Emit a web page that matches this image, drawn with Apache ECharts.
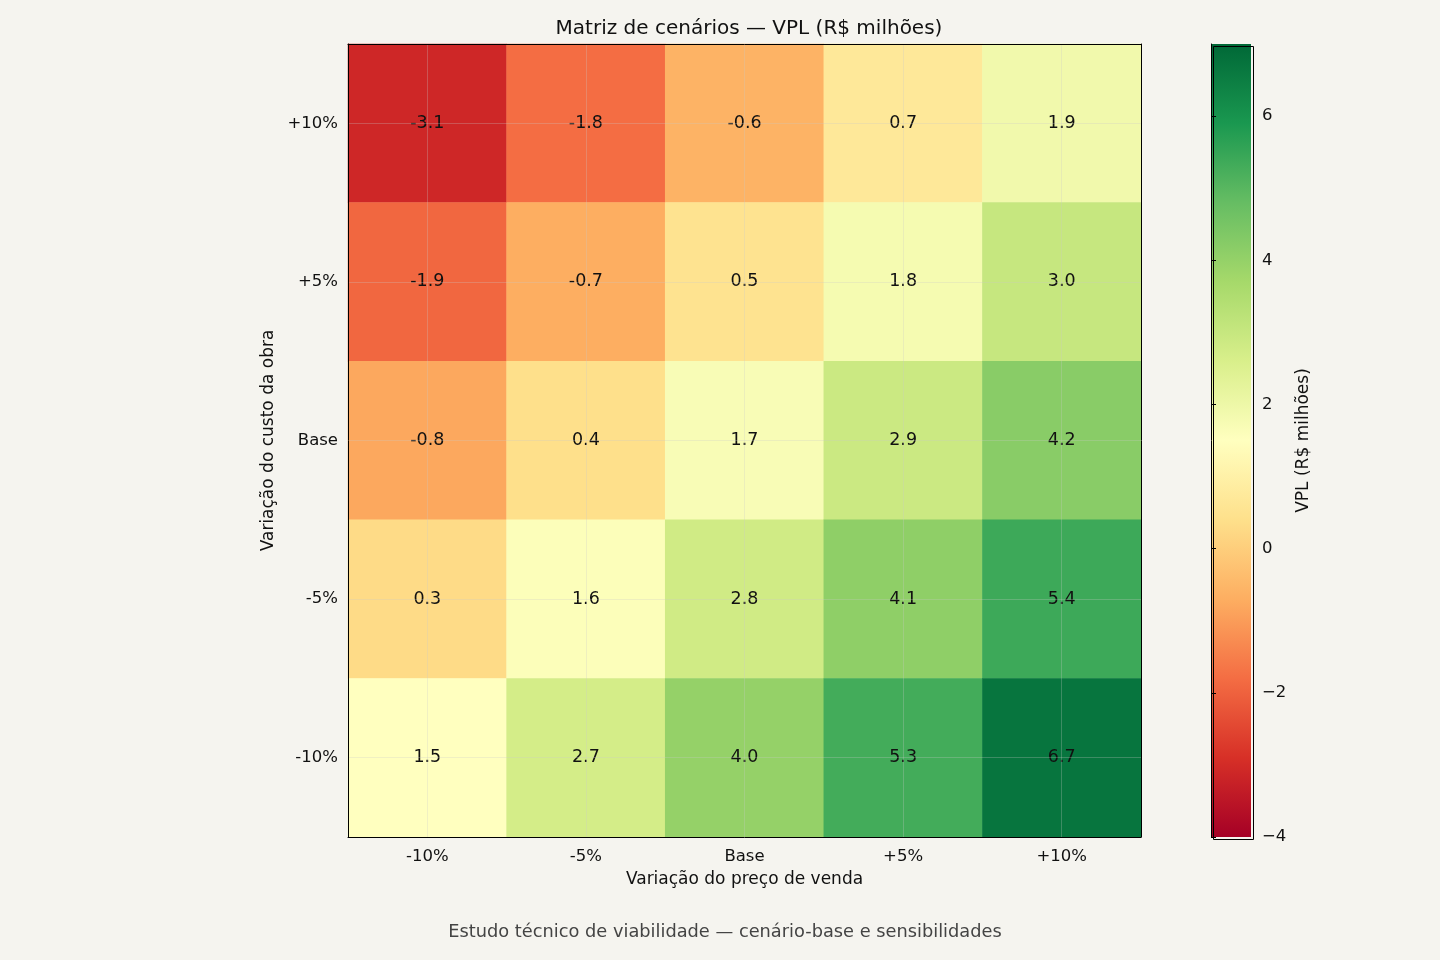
<!DOCTYPE html>
<html>
<head>
<meta charset="utf-8">
<style>
  html, body { margin: 0; padding: 0; background: #f5f4ef; }
  #chart { width: 1440px; height: 960px; }
</style>
<script src="https://cdn.jsdelivr.net/npm/echarts@6/dist/echarts.min.js"></script>
</head>
<body>
<div id="chart"></div>
<script>
// eixo x: variação do preço de venda
var precoCats = ['-10%', '-5%', 'Base', '+5%', '+10%'];
// eixo y (de cima para baixo): variação do custo da obra
var custoCats = ['+10%', '+5%', 'Base', '-5%', '-10%'];

// VPL em R$ milhões, uma linha por cenário de custo (mesma ordem de custoCats)
var vplCusto10 = [-3.1, -1.8, -0.6, 0.7, 1.9];
var vplCusto5 = [-1.9, -0.7, 0.5, 1.8, 3.0];
var vplBase = [-0.8, 0.4, 1.7, 2.9, 4.2];
var vplCustoM5 = [0.3, 1.6, 2.8, 4.1, 5.4];
var vplCustoM10 = [1.5, 2.7, 4.0, 5.3, 6.7];
var linhas = [vplCusto10, vplCusto5, vplBase, vplCustoM5, vplCustoM10];

var vMin = -4, vMax = 7;
var cbTicks = [-4, -2, 0, 2, 4, 6];
var rdYlGn = ['#a50026', '#d73027', '#f46d43', '#fdae61', '#fee08b', '#ffffbf',
  '#d9ef8b', '#a6d96a', '#66bd63', '#1a9850', '#006837'];

var dados = [];
linhas.forEach(function (linha, i) {
  linha.forEach(function (v, j) {
    dados.push([j, i, v]);
  });
});

var font = 'DejaVu Sans';
var myChart = echarts.init(document.getElementById('chart'));

var linhasGrade = [];
precoCats.forEach(function (c) { linhasGrade.push({ xAxis: c }); });
custoCats.forEach(function (c) { linhasGrade.push({ yAxis: c }); });

// gradiente da barra de cores (de baixo = vMin para cima = vMax)
var paradas = rdYlGn.map(function (c, i) {
  return { offset: 1 - i / (rdYlGn.length - 1), color: c };
}).reverse();

var option = {
  backgroundColor: '#f5f4ef',
  animation: false,
  textStyle: { fontFamily: font },
  title: [{
    text: 'Matriz de cenários — VPL (R$ milhões)',
    left: 744, top: 14, textAlign: 'center',
    textStyle: { fontFamily: font, fontSize: 20, fontWeight: 'normal', color: '#111' }
  }, {
    text: 'Estudo técnico de viabilidade — cenário-base e sensibilidades',
    left: 720, top: 918, textAlign: 'center',
    textStyle: { fontFamily: font, fontSize: 17.8, fontWeight: 'normal', color: '#444' }
  }],
  grid: [
    { left: 348, top: 44, width: 793, height: 793 },
    { left: 1211, top: 44, width: 40, height: 793 }
  ],
  xAxis: [{
    type: 'category', data: precoCats, gridIndex: 0, z: 5,
    name: 'Variação do preço de venda', nameLocation: 'middle', nameGap: 34,
    nameTextStyle: { fontFamily: font, fontSize: 17, color: '#111' },
    axisLine: { lineStyle: { color: '#000', width: 1 } },
    axisTick: { alignWithLabel: true, length: 5, lineStyle: { color: '#000' } },
    axisLabel: { fontFamily: font, fontSize: 16.5, color: '#111', margin: 11 },
    splitLine: { show: false }
  }, {
    type: 'category', data: precoCats, gridIndex: 0, position: 'top', z: 5,
    axisLine: { lineStyle: { color: '#000', width: 1 } },
    axisTick: { show: false }, axisLabel: { show: false }
  }, {
    type: 'value', gridIndex: 1, show: false
  }],
  yAxis: [{
    type: 'category', data: custoCats, inverse: true, gridIndex: 0, z: 5,
    name: 'Variação do custo da obra', nameLocation: 'middle', nameGap: 71,
    nameTextStyle: { fontFamily: font, fontSize: 17, color: '#111' },
    axisLine: { lineStyle: { color: '#000', width: 1 } },
    axisTick: { alignWithLabel: true, length: 5, lineStyle: { color: '#000' } },
    axisLabel: { fontFamily: font, fontSize: 16.5, color: '#111', margin: 10 },
    splitLine: { show: false }
  }, {
    type: 'category', data: custoCats, inverse: true, gridIndex: 0, position: 'right', z: 5,
    axisLine: { lineStyle: { color: '#000', width: 1 } },
    axisTick: { show: false }, axisLabel: { show: false }
  }, {
    type: 'value', gridIndex: 1, position: 'right', min: vMin, max: vMax, interval: 2, z: 10,
    name: 'VPL (R$ milhões)', nameLocation: 'middle', nameGap: 44, nameRotate: 90,
    nameTextStyle: { fontFamily: font, fontSize: 17, color: '#111' },
    axisLine: { show: true, lineStyle: { color: '#000', width: 1 } },
    axisTick: { show: true, length: 5, lineStyle: { color: '#000' } },
    axisLabel: {
      fontFamily: font, fontSize: 16.5, color: '#111', margin: 11, showMaxLabel: false,
      formatter: function (v) { return cbTicks.indexOf(v) >= 0 ? String(v).replace('-', '\u2212') : ''; }
    },
    splitLine: { show: false }
  }],
  visualMap: {
    type: 'continuous', seriesIndex: 0, min: vMin, max: vMax, show: false,
    inRange: { color: rdYlGn }
  },
  graphic: [{
    type: 'rect', left: 1211, top: 44, z: 1, silent: true,
    shape: { width: 40, height: 793 },
    style: { fill: new echarts.graphic.LinearGradient(0, 0, 0, 1, paradas) }
  }, {
    type: 'rect', left: 1211, top: 44, z: 100, silent: true,
    shape: { width: 40, height: 793 },
    style: { fill: 'none', stroke: '#000', lineWidth: 1 }
  }],
  series: [{
    type: 'heatmap', xAxisIndex: 0, yAxisIndex: 0,
    data: dados,
    label: {
      show: true, fontFamily: font, fontSize: 17.5, color: '#111',
      formatter: function (p) { return p.value[2].toFixed(1); }
    },
    itemStyle: { borderWidth: 0 },
    emphasis: { disabled: true },
    markLine: {
      silent: true, symbol: 'none', label: { show: false },
      lineStyle: { color: 'rgba(200,200,200,0.28)', width: 1, type: 'solid' },
      data: linhasGrade
    }
  }]
};

myChart.setOption(option);
</script>
</body>
</html>
